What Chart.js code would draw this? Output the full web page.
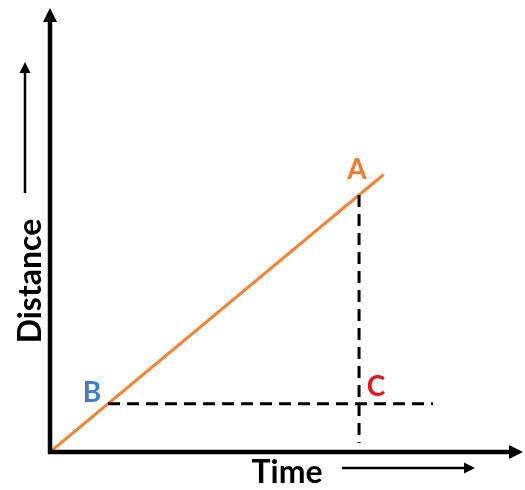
<!DOCTYPE html>
<html>
<head>
<meta charset="utf-8">
<script src="https://cdn.jsdelivr.net/npm/chart.js@4.4.0/dist/chart.umd.min.js"></script>
<style>
  body { margin: 0; background: #fff; }
  canvas { display: block; }
</style>
</head>
<body>
<canvas id="chart" width="525" height="490"></canvas>
<script>
// data (time units along x, distance units along y)
const lineTime = [0, 11.5];
const lineDist = [0, 11.5];
const pointNames = ['A', 'B', 'C'];
const pointTime = [10.65, 2, 10.65];
const pointDist = [10.65, 2, 2];
const dashEndTime = 13.2;
const dashBottomDist = 0.37;
const axisMaxTime = 16.3;
const axisMaxDist = 18.4;
const axisLabels = ['Time', 'Distance'];

const labelColors = ['#ED7D31', '#3F7FC6', '#E8141B'];
const labelOffsets = [[-2, -25], [-16, -11], [17, -17]];

function arrow(ctx, x1, y1, x2, y2, width, head) {
    const a = Math.atan2(y2 - y1, x2 - x1);
    ctx.save();
    ctx.strokeStyle = '#000';
    ctx.fillStyle = '#000';
    ctx.lineWidth = width;
    ctx.beginPath();
    ctx.moveTo(x1, y1);
    ctx.lineTo(x2 - Math.cos(a) * head * 0.8, y2 - Math.sin(a) * head * 0.8);
    ctx.stroke();
    ctx.beginPath();
    ctx.moveTo(x2, y2);
    ctx.lineTo(x2 - Math.cos(a) * head - Math.sin(a) * head * 0.5, y2 - Math.sin(a) * head + Math.cos(a) * head * 0.5);
    ctx.lineTo(x2 - Math.cos(a) * head + Math.sin(a) * head * 0.5, y2 - Math.sin(a) * head - Math.cos(a) * head * 0.5);
    ctx.closePath();
    ctx.fill();
    ctx.restore();
}

const decorations = {
    id: 'decorations',
    afterDatasetsDraw(chart) {
        const ctx = chart.ctx;
        const xs = chart.scales.x, ys = chart.scales.y;
        const x0 = xs.getPixelForValue(0), y0 = ys.getPixelForValue(0);

        // axes with arrow heads
        arrow(ctx, x0 - 2, y0, xs.getPixelForValue(axisMaxTime), y0, 4.5, 14);
        arrow(ctx, x0, y0 + 2, x0, ys.getPixelForValue(axisMaxDist), 4.5, 14);

        // point labels
        ctx.save();
        ctx.font = 'bold 28px Lato';
        ctx.textAlign = 'center';
        ctx.textBaseline = 'middle';
        pointNames.forEach((n, i) => {
            ctx.fillStyle = labelColors[i];
            ctx.fillText(n, xs.getPixelForValue(pointTime[i]) + labelOffsets[i][0],
                ys.getPixelForValue(pointDist[i]) + labelOffsets[i][1]);
        });

        // axis titles
        ctx.fillStyle = '#000';
        ctx.font = 'bold 32px Lato';
        ctx.fillText(axisLabels[0], 287, 473);
        ctx.save();
        ctx.translate(31, 281);
        ctx.rotate(-Math.PI / 2);
        ctx.fillText(axisLabels[1], 0, 0);
        ctx.restore();
        ctx.restore();

        // small direction arrows
        arrow(ctx, 342, 468, 475, 468, 2.5, 11);
        arrow(ctx, 25, 193, 25, 62, 2.5, 11);
    }
};

const dashStyle = {
    borderColor: '#000',
    borderWidth: 3,
    borderDash: [12, 7],
    pointRadius: 0,
    fill: false
};

new Chart(document.getElementById('chart'), {
    type: 'scatter',
    data: {
        datasets: [
            Object.assign({
                data: [
                    { x: pointTime[0], y: pointDist[0] },
                    { x: pointTime[0], y: dashBottomDist }
                ],
                showLine: true
            }, dashStyle),
            Object.assign({
                data: [
                    { x: pointTime[1], y: pointDist[1] },
                    { x: dashEndTime, y: pointDist[1] }
                ],
                showLine: true
            }, dashStyle),
            {
                data: lineTime.map((t, i) => ({ x: t, y: lineDist[i] })),
                showLine: true,
                borderColor: '#F08537',
                borderWidth: 3,
                pointRadius: 0
            }
        ]
    },
    options: {
        responsive: false,
        animation: false,
        layout: { padding: { left: 50, right: 2, top: 8, bottom: 38 } },
        plugins: { legend: { display: false }, tooltip: { enabled: false } },
        scales: {
            x: { type: 'linear', min: 0, max: axisMaxTime, display: false },
            y: { type: 'linear', min: 0, max: axisMaxDist, display: false }
        }
    },
    plugins: [decorations]
});
</script>
</body>
</html>
